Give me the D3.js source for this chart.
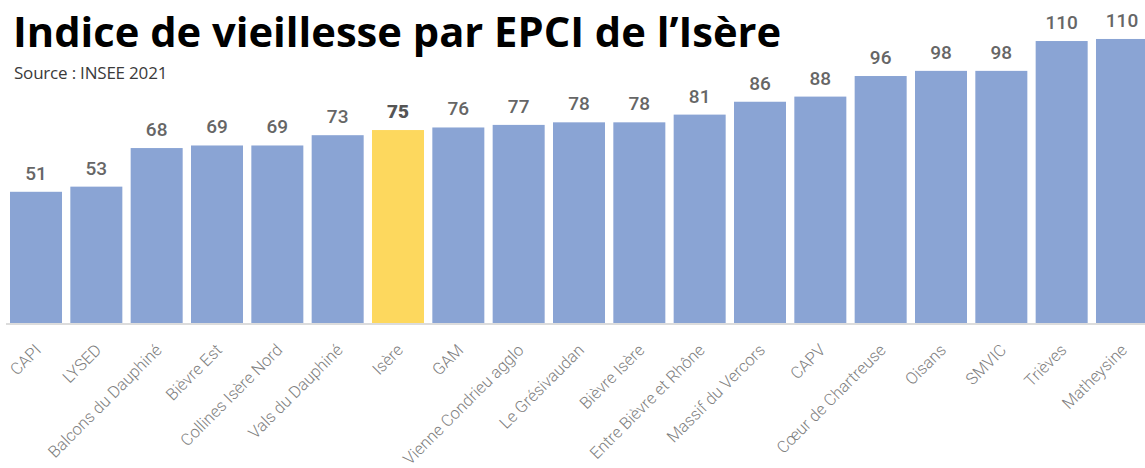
<!DOCTYPE html>
<html><head><meta charset="utf-8">
<script src="https://cdn.jsdelivr.net/npm/d3@7"></script>
<style>body{margin:0;background:#fff;overflow:hidden}</style>
</head><body>
<svg id="c" width="1145" height="468"></svg>
<script>
const categories = ["CAPI","LYSED","Balcons du Dauphiné","Bièvre Est","Collines Isère Nord","Vals du Dauphiné","Isère","GAM","Vienne Condrieu agglo","Le Grésivaudan","Bièvre Isère","Entre Bièvre et Rhône","Massif du Vercors","CAPV","Cœur de Chartreuse","Oisans","SMVIC","Trièves","Matheysine"];
const values = [51,53,68,69,69,73,75,76,77,78,78,81,86,88,96,98,98,109.6,110.4];
const highlight = "Isère";

const svg = d3.select("#c");
const W = 1145, H = 468;
const x = d3.scaleBand().domain(categories).range([10, 1148]).paddingInner(0.138).paddingOuter(0);
const y = d3.scaleLinear().domain([0, 110]).range([323, 40]);

svg.append("text").attr("x",13).attr("y",47)
  .attr("font-family","'Open Sans'").attr("font-weight",700).attr("font-size",41.7)
  .attr("fill","#000").text("Indice de vieillesse par EPCI de l’Isère");
svg.append("text").attr("x",14).attr("y",79)
  .attr("font-family","'Open Sans'").attr("font-size",17).attr("letter-spacing","-0.2")
  .attr("fill","#3a3a3a").text("Source : INSEE 2021");

svg.append("line").attr("x1",6).attr("x2",W).attr("y1",324).attr("y2",324)
  .attr("stroke","#dcdcdc").attr("stroke-width",2);

svg.selectAll("rect.bar").data(categories).join("rect")
  .attr("x", d=>x(d)).attr("width", x.bandwidth())
  .attr("y", (d,i)=>y(values[i])).attr("height", (d,i)=>y(0)-y(values[i]))
  .attr("fill", d=> d===highlight ? "#fdd85e" : "#8aa4d4");

svg.selectAll("text.val").data(categories).join("text")
  .attr("x", d=>x(d)+x.bandwidth()/2).attr("y",(d,i)=>y(values[i])-12)
  .attr("text-anchor","middle").attr("font-family","Roboto")
  .attr("font-weight", d=> d===highlight ? 900 : 500)
  .attr("font-size",19).attr("fill", d=> d===highlight ? "#555" : "#666")
  .text((d,i)=>Math.round(values[i]));

svg.selectAll("text.cat").data(categories).join("text")
  .attr("transform", d=>`translate(${x(d)+x.bandwidth()/2+2},${347}) rotate(-45)`)
  .attr("text-anchor","end").attr("dy","0.35em")
  .attr("font-family","Roboto").attr("font-weight",300).attr("font-size",16.5).attr("fill","#808080")
  .text(d=>d);
</script>
</body></html>
